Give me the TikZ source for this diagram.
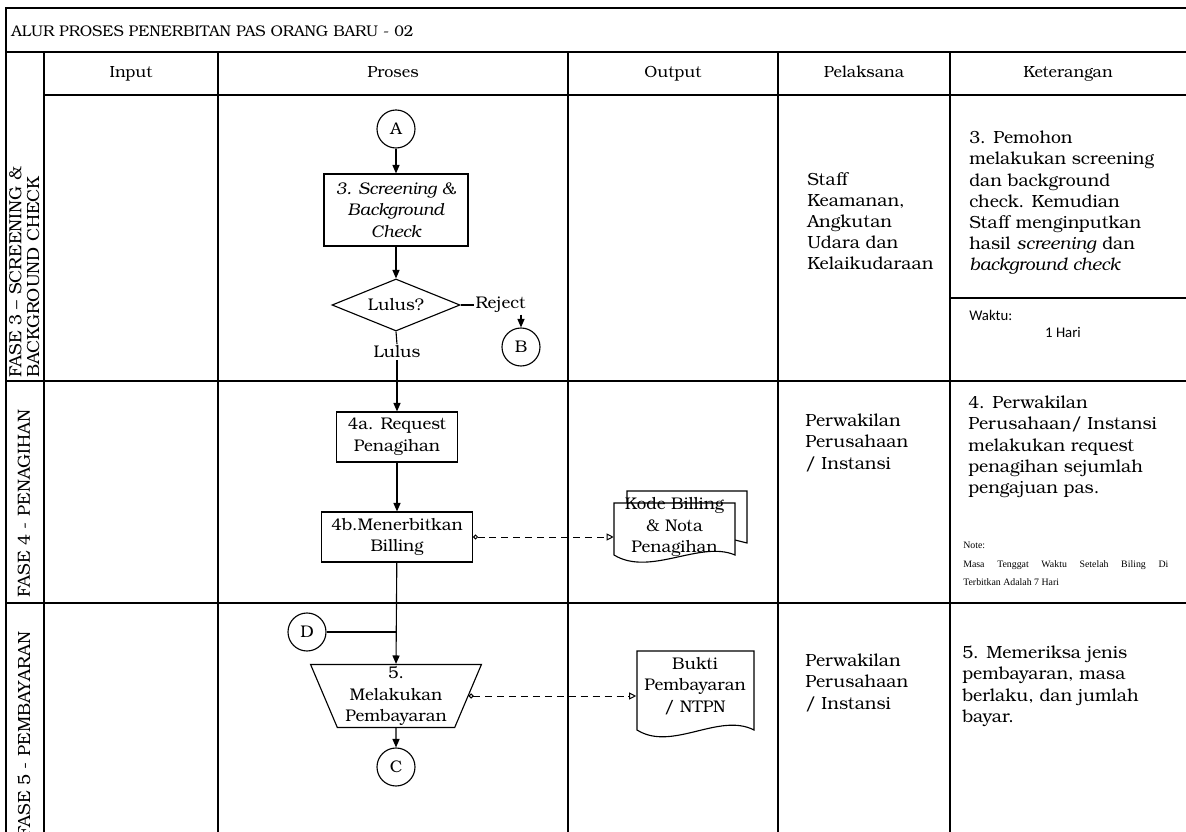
\documentclass[tikz,border=0pt]{standalone}
\usepackage{fontspec}
\setmainfont{texgyrebonum}[Extension=.otf,UprightFont=*-regular,ItalicFont=*-italic,BoldFont=*-bold,BoldItalicFont=*-bolditalic]
\newfontfamily\calibrifont{Carlito}
\newfontfamily\notefont{Liberation Serif}
\usetikzlibrary{arrows.meta,shapes.geometric,calc}

\newcommand{\txt}{\fontsize{11}{14}\selectfont}
\newcommand{\flowtxt}{\fontsize{12}{15.4}\selectfont}
\newcommand{\colstxt}{\fontsize{12.5}{15}\selectfont}

\begin{document}
\begin{tikzpicture}[x=0.025cm,y=-0.025cm,>={Triangle[length=6pt,width=5pt]},font=\txt,
  grid/.style={line width=0.9pt},
  proc/.style={draw,line width=0.8pt,minimum height=1.25cm,align=center,inner sep=1pt,font=\flowtxt},
  conn/.style={draw,circle,line width=0.8pt,minimum size=0.95cm,inner sep=0pt,font=\flowtxt},
  flow/.style={line width=0.8pt,->},
  datalink/.style={line width=0.7pt,dash pattern=on 5pt off 3.5pt,{Circle[open,length=3.5pt]}-{Triangle[open,length=5pt,width=5pt]}},
  doc/.style={draw,line width=0.8pt,fill=white},
  info/.style={anchor=north west,align=left,inner sep=0pt,font=\colstxt},
  phase/.style={rotate=90,inner sep=0pt,font=\fontsize{12.5}{12.5}\selectfont}]
  \useasboundingbox (0,0) rectangle (1186,832);
  % table frame
  \draw[grid] (1190,8) -- (6,8) -- (6,836);
  \draw[grid] (6,52) -- (1190,52);
  \draw[grid] (44,95) -- (1190,95);
  \foreach \y in {381,603} \draw[grid] (6,\y) -- (1190,\y);
  \foreach \x in {44,218,568,778,950} \draw[grid] (\x,52) -- (\x,836);
  \draw[grid] (950,298) -- (1190,298);
  \node[anchor=west,inner sep=0pt] (title) at (11,31) {ALUR PROSES PENERBITAN PAS ORANG BARU - 02};
  \foreach \x/\t in {131/Input,393/Proses,673/Output,864/Pelaksana,1068/Keterangan}
    \node[anchor=base,font=\fontsize{11.5}{14}\selectfont] (h-\t) at (\x,78) {\t};
  % phase labels
  \node[phase,anchor=north west,align=left] (f3) at (9,378) {FASE 3 -- SCREENING \&\\BACKGROUND CHECK};
  \node[phase,anchor=west] (f4) at (24,598) {FASE 4 - PENAGIHAN};
  \node[phase,anchor=west] (f5) at (24,838) {FASE 5 - PEMBAYARAN};
  % proses column
  \node[conn] (a) at (396,129) {A};
  \node[proc,minimum width=3.6cm,minimum height=1.8cm,font=\flowtxt\itshape] (scr) at (396,210) {3. Screening \&\\Background\\Check};
  \node[diamond,draw,line width=0.8pt,aspect=2.46,minimum width=3.2cm,minimum height=1.3cm,inner sep=1pt,font=\flowtxt] (lulusq) at (396,305) {Lulus?};
  \node[anchor=west,inner sep=1pt,font=\flowtxt] (rej) at (474,305) {Reject};
  \node[conn] (b) at (521,347) {B};
  \node[inner sep=1pt,font=\flowtxt] (lulus) at (397,352) {Lulus};
  \node[proc,minimum width=3.025cm] (req) at (397,437) {4a. Request\\Penagihan};
  \node[proc,minimum width=3.775cm] (bill) at (397,537) {4b.Menerbitkan\\Billing};
  \node[conn] (d) at (307,632) {D};
  \node[trapezium,draw,line width=0.8pt,trapezium angle=68.75,trapezium stretches=true,shape border rotate=180,
    minimum width=4.275cm,minimum height=1.575cm,inner sep=0pt,align=center,font=\flowtxt] (pay) at (396,696) {5.\\Melakukan\\Pembayaran};
  \node[conn] (c) at (396,767) {C};
  \draw[flow] (a) -- (scr);
  \draw[flow] (scr) -- (lulusq);
  \draw[line width=0.8pt] (lulusq.east) -- (rej.west);
  \draw[flow] (rej.south -| b) -- (b);
  \draw[line width=0.8pt] (lulusq.south) -- (lulus.north);
  \draw[flow] (lulus.south) -- (req.north);
  \draw[flow] (req) -- (bill);
  \draw[flow] (bill) -- (pay.north);
  \draw[line width=0.8pt] (d) -- (d -| pay.north);
  \draw[flow] (pay.south) -- (c);
  % output column
  \draw[doc] (627,503) -- (627,491) -- (747,491) -- (747,543) -- (735,540);
  \draw[doc] (614,555) -- (614,503) -- (735,503) -- (735,555) .. controls +(-35,-15) and +(36,22) .. (614,555) -- cycle;
  \node[minimum width=3.025cm,inner sep=0pt,align=center,font=\flowtxt] (kode) at (674.5,527) {Kode Billing\\\& Nota\\Penagihan};
  \draw[doc] (637,730) -- (637,651) -- (754,651) -- (754,730) .. controls +(-35,-18) and +(35,22) .. (637,730) -- cycle;
  \node[minimum width=2.925cm,inner sep=0pt,align=center,font=\flowtxt] (bukti) at (695,686) {Bukti\\Pembayaran\\/ NTPN};
  \draw[datalink] (bill.east) -- (bill.east -| kode.west);
  \draw[datalink] (pay.east) -- (pay.east -| bukti.west);
  % pelaksana
  \node[info] (p3) at (807,172) {Staff\\Keamanan,\\Angkutan\\Udara dan\\Kelaikudaraan};
  \node[info] (p4) at (805,414) {Perwakilan\\Perusahaan\\/ Instansi};
  \node[info] (p5) at (805,654) {Perwakilan\\Perusahaan\\/ Instansi};
  % keterangan
  \node[info] (k3) at (969,131) {3. Pemohon\\melakukan screening\\dan background\\check. Kemudian\\Staff menginputkan\\hasil \textit{screening} dan\\\textit{background check}};
  \node[info,anchor=west,font=\calibrifont\fontsize{10.5}{12}\selectfont] (waktu) at (969,315) {Waktu:};
  \node[font=\calibrifont\fontsize{10.5}{12}\selectfont] (hari) at (1063,332) {1 Hari};
  \node[info] (k4) at (968,396) {4. Perwakilan\\Perusahaan/ Instansi\\melakukan request\\penagihan sejumlah\\pengajuan pas.};
  \node[info,font=\notefont\fontsize{7}{13}\selectfont] (note) at (963,542) {Note:\\\makebox[5.125cm][s]{Masa Tenggat Waktu Setelah Biling Di}\\Terbitkan Adalah 7 Hari};
  \node[info] (k5) at (962,646) {5. Memeriksa jenis\\pembayaran, masa\\berlaku, dan jumlah\\bayar.};
\end{tikzpicture}
\end{document}
